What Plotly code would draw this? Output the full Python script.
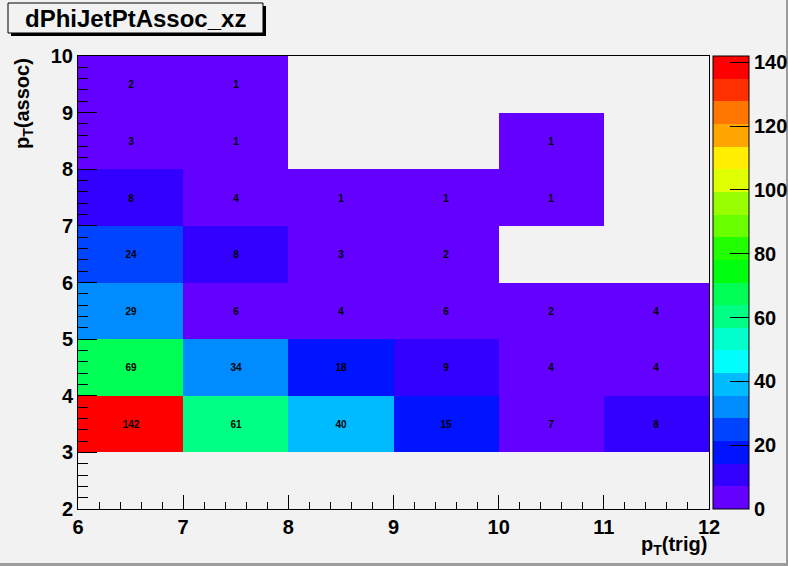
import colorsys
import plotly.graph_objects as go

# ---------------- data ----------------
x_edges = [6, 7, 8, 9, 10, 11, 12]
y_edges = [2, 3, 4, 5, 6, 7, 8, 9, 10]
# rows: y bins 2-3 ... 9-10 ; cols: x bins 6-7 ... 11-12 ; None = empty bin
counts = [
    [None, None, None, None, None, None],
    [142, 61, 40, 15, 7, 8],
    [69, 34, 18, 9, 4, 4],
    [29, 6, 4, 6, 2, 4],
    [24, 8, 3, 2, None, None],
    [8, 4, 1, 1, 1, None],
    [3, 1, None, None, 1, None],
    [2, 1, None, None, None, None],
]
x_ticks = [6, 7, 8, 9, 10, 11, 12]
y_ticks = [2, 3, 4, 5, 6, 7, 8, 9, 10]
z_ticks = [0, 20, 40, 60, 80, 100, 120, 140]
z_max = 142
title_text = "dPhiJetPtAssoc_xz"

# ---------------- palette (ROOT pretty palette, 20 contours) ----------------
n_levels = 20
n_colors = 50
colorscale = []
for j in range(n_levels):
    idx = int((j + 0.99) * n_colors / n_levels)
    hue = 280 - (idx + 1) * (280 / n_colors)
    r, g, b = colorsys.hls_to_rgb(hue / 360.0, 0.5, 1.0)
    c = "rgb(%d,%d,%d)" % (round(r * 255), round(g * 255), round(b * 255))
    colorscale.append([j / n_levels, c])
    colorscale.append([(j + 1) / n_levels, c])

text = [["" if v is None else str(v) for v in row] for row in counts]

W, H = 788, 566
L, R, T, B = 78, 709, 56, 509
pw, ph = R - L, B - T


def px(xp):
    return (xp - L) / pw


def py(yp):
    return (B - yp) / ph


FONT = "Liberation Sans"
BG = "#f2f2f2"

fig = go.Figure()
fig.add_trace(go.Heatmap(
    x=x_edges, y=y_edges, z=counts,
    text=text, texttemplate="%{text}",
    textfont=dict(family=FONT, size=10, color="black", weight="bold"),
    colorscale=colorscale, zmin=0, zmax=z_max,
    hoverongaps=False,
    colorbar=dict(
        x=px(713), xanchor="left", xpad=0, ypad=0,
        y=0, yanchor="bottom", len=1, lenmode="fraction",
        thickness=36, thicknessmode="pixels",
        outlinewidth=1, outlinecolor="black",
        tickvals=z_ticks, ticks="inside", ticklen=19, tickcolor="black",
        tickfont=dict(family=FONT, size=20, color="black", weight="bold"),
    ),
))

axis_common = dict(
    showgrid=False, zeroline=False, showline=True, linecolor="black",
    linewidth=1, mirror=True, ticks="inside", tickcolor="black",
    tickfont=dict(family=FONT, size=20, color="black", weight="bold"),
)
fig.update_xaxes(range=[6, 12], tickvals=x_ticks, ticklen=14,
                 minor=dict(ticks="inside", dtick=0.2, ticklen=7, tickcolor="black"),
                 **axis_common)
fig.update_yaxes(range=[2, 10], tickvals=y_ticks, ticklen=19,
                 minor=dict(ticks="inside", dtick=0.2, ticklen=10, tickcolor="black"),
                 **axis_common)

shapes = []
# canvas bevel (right / bottom darker)
shapes.append(dict(type="rect", xref="paper", yref="paper",
                   x0=px(786), x1=px(789), y0=py(-1), y1=py(567),
                   fillcolor="#9c9c9c", line=dict(width=0), layer="below"))
shapes.append(dict(type="rect", xref="paper", yref="paper",
                   x0=px(-1), x1=px(789), y0=py(563), y1=py(567),
                   fillcolor="#9c9c9c", line=dict(width=0), layer="below"))
# title box shadow + box
shapes.append(dict(type="rect", xref="paper", yref="paper",
                   x0=px(11), x1=px(266), y0=py(36), y1=py(6),
                   fillcolor="black", line=dict(width=0)))
shapes.append(dict(type="rect", xref="paper", yref="paper",
                   x0=px(8), x1=px(263), y0=py(33), y1=py(3),
                   fillcolor=BG, line=dict(color="black", width=1)))

annotations = [
    dict(text=title_text, xref="paper", yref="paper", x=px(135.5), y=py(18),
         xanchor="center", yanchor="middle", showarrow=False,
         font=dict(family=FONT, size=24, color="black", weight="bold")),
    dict(text="p<sub>T</sub>(trig)", xref="paper", yref="paper", x=1.0, y=py(531),
         xanchor="right", yanchor="top", showarrow=False,
         font=dict(family=FONT, size=20, color="black", weight="bold")),
    dict(text="p<sub>T</sub>(assoc)", xref="paper", yref="paper", x=px(9), y=1.0,
         xanchor="left", yanchor="top", showarrow=False, textangle=-90,
         font=dict(family=FONT, size=20, color="black", weight="bold")),
]

fig.update_layout(
    width=W, height=H,
    margin=dict(l=L, r=W - R, t=T, b=H - B, pad=0, autoexpand=False),
    paper_bgcolor=BG, plot_bgcolor=BG,
    shapes=shapes, annotations=annotations,
    showlegend=False,
)

fig.write_html("out.html",
               config={"displayModeBar": False},
               post_script="document.body.style.margin='0';document.body.style.overflow='hidden';")
